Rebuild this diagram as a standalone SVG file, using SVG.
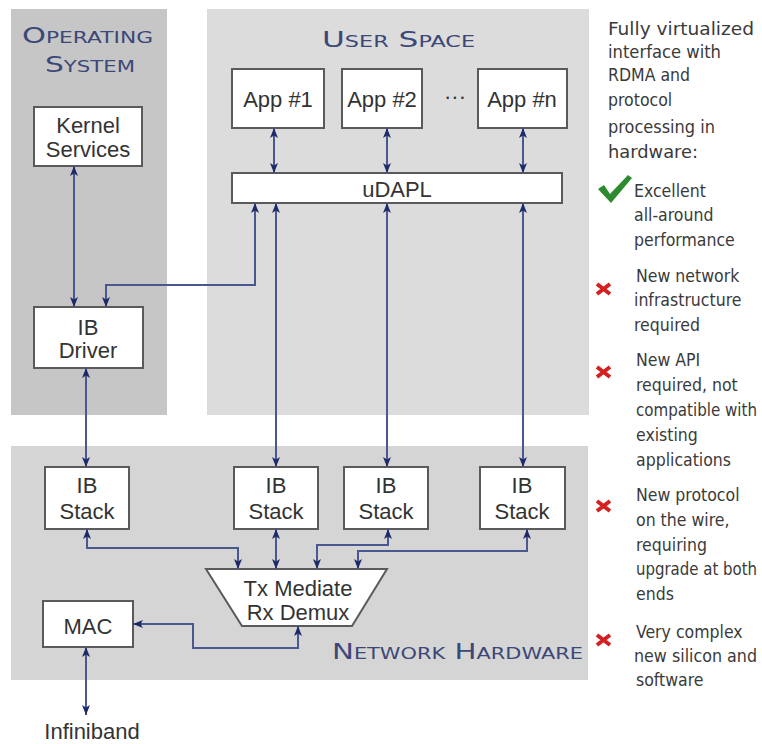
<svg xmlns="http://www.w3.org/2000/svg" width="762" height="744" viewBox="0 0 762 744">
<style>
.panel-os{fill:#c6c6c6}
.panel-us{fill:#dcdcdc}
.panel-hw{fill:#d5d5d5}
.title{font-family:"DejaVu Sans",sans-serif;font-variant:small-caps;font-size:21px;fill:#3c4878}
.box{fill:#fff;stroke:#5a5a5a;stroke-width:2}
.lbl{font-family:"Liberation Sans",Arial,sans-serif;font-size:22px;fill:#333;text-anchor:middle}
.conn{fill:none;stroke:#4a5890;stroke-width:2}
.side{font-family:"DejaVu Sans Condensed","DejaVu Sans",sans-serif;font-size:17.5px;fill:#3a3a3a}
.xm{stroke:#d42020;stroke-width:4;stroke-linecap:butt}
</style>
<defs>
<marker id="ah" viewBox="0 0 10 8" markerWidth="10" markerHeight="8" refX="10" refY="4" orient="auto-start-reverse" markerUnits="userSpaceOnUse">
<path d="M0,0 L10,4 L0,8 L2.5,4 Z" fill="#1e2a68"/>
</marker>
</defs>
<rect width="762" height="744" fill="#fff"/>

<g id="panels">
<rect class="panel-os" x="11" y="9" width="156" height="406"/>
<rect class="panel-us" x="207" y="9" width="382" height="406"/>
<rect class="panel-hw" x="11" y="446" width="577" height="234"/>
<text class="title" x="22" y="43" textLength="131" lengthAdjust="spacingAndGlyphs">Operating</text>
<text class="title" x="45" y="72" textLength="90" lengthAdjust="spacingAndGlyphs">System</text>
<text class="title" x="322" y="47" textLength="153" lengthAdjust="spacingAndGlyphs">User Space</text>
<text class="title" x="332" y="659" textLength="251" lengthAdjust="spacingAndGlyphs">Network Hardware</text>
</g>

<g id="kernel">
<rect class="box" x="34" y="107" width="108" height="59"/>
<text class="lbl" x="88" y="133">Kernel</text>
<text class="lbl" x="88" y="157">Services</text>
</g>
<g id="app1">
<rect class="box" x="232" y="69" width="92" height="59"/>
<text class="lbl" x="278" y="107">App #1</text>
</g>
<g id="app2">
<rect class="box" x="342" y="69" width="80" height="59"/>
<text class="lbl" x="382" y="107">App #2</text>
</g>
<text class="lbl" x="455" y="104">···</text>
<g id="appn">
<rect class="box" x="478" y="69" width="89" height="59"/>
<text class="lbl" x="522" y="107">App #n</text>
</g>
<g id="udapl">
<rect class="box" x="232" y="173" width="330" height="30"/>
<text class="lbl" x="397" y="197">uDAPL</text>
</g>
<g id="ibdriver">
<rect class="box" x="34" y="307" width="109" height="61"/>
<text class="lbl" x="88" y="335">IB</text>
<text class="lbl" x="88" y="358">Driver</text>
</g>
<g id="ibstack1">
<rect class="box" x="45" y="467" width="84" height="62"/>
<text class="lbl" x="87" y="493">IB</text>
<text class="lbl" x="87" y="519">Stack</text>
</g>
<g id="ibstack2">
<rect class="box" x="234" y="467" width="84" height="62"/>
<text class="lbl" x="276" y="493">IB</text>
<text class="lbl" x="276" y="519">Stack</text>
</g>
<g id="ibstack3">
<rect class="box" x="344" y="467" width="84" height="62"/>
<text class="lbl" x="386" y="493">IB</text>
<text class="lbl" x="386" y="519">Stack</text>
</g>
<g id="ibstack4">
<rect class="box" x="480" y="467" width="85" height="62"/>
<text class="lbl" x="522" y="493">IB</text>
<text class="lbl" x="522" y="519">Stack</text>
</g>
<g id="txmediate">
<path class="box" d="M206,569 L387,569 L352,626 L242,626 Z"/>
<text class="lbl" x="298" y="596">Tx Mediate</text>
<text class="lbl" x="298" y="620">Rx Demux</text>
</g>
<g id="mac">
<rect class="box" x="43" y="601" width="90" height="46"/>
<text class="lbl" x="88" y="634">MAC</text>
</g>
<g id="infiniband">
<text class="lbl" x="92" y="739">Infiniband</text>
</g>

<g id="connectors">
<path class="conn" d="M74,166 V307" marker-start="url(#ah)" marker-end="url(#ah)"/>
<path class="conn" d="M274,128 V173" marker-start="url(#ah)" marker-end="url(#ah)"/>
<path class="conn" d="M387,128 V173" marker-start="url(#ah)" marker-end="url(#ah)"/>
<path class="conn" d="M523,128 V173" marker-start="url(#ah)" marker-end="url(#ah)"/>
<path class="conn" d="M255,203 V285 H106 V307" marker-start="url(#ah)" marker-end="url(#ah)"/>
<path class="conn" d="M276,203 V467" marker-start="url(#ah)" marker-end="url(#ah)"/>
<path class="conn" d="M387,203 V467" marker-start="url(#ah)" marker-end="url(#ah)"/>
<path class="conn" d="M523,203 V467" marker-start="url(#ah)" marker-end="url(#ah)"/>
<path class="conn" d="M86,368 V467" marker-start="url(#ah)" marker-end="url(#ah)"/>
<path class="conn" d="M87,529 V548 H238 V569" marker-start="url(#ah)" marker-end="url(#ah)"/>
<path class="conn" d="M276,529 V569" marker-start="url(#ah)" marker-end="url(#ah)"/>
<path class="conn" d="M388,529 V545 H317 V569" marker-start="url(#ah)" marker-end="url(#ah)"/>
<path class="conn" d="M527,529 V551 H358 V569" marker-start="url(#ah)" marker-end="url(#ah)"/>
<path class="conn" d="M298,626 V648 H193 V624 H133" marker-start="url(#ah)" marker-end="url(#ah)"/>
<path class="conn" d="M86,647 V715" marker-start="url(#ah)" marker-end="url(#ah)"/>
</g>

<g id="notes">
<text class="side" x="608" y="35" textLength="146" lengthAdjust="spacingAndGlyphs">Fully virtualized</text>
<text class="side" x="608" y="58" textLength="113" lengthAdjust="spacingAndGlyphs">interface with</text>
<text class="side" x="608" y="81">RDMA and</text>
<text class="side" x="608" y="106">protocol</text>
<text class="side" x="608" y="133" textLength="107" lengthAdjust="spacingAndGlyphs">processing in</text>
<text class="side" x="608" y="158" textLength="90" lengthAdjust="spacingAndGlyphs">hardware:</text>
<path d="M598,189 L604,185 L610,194 L628,175 L632,178 L611,203 Z" fill="#2e8a2e"/>
<text class="side" x="634" y="197">Excellent</text>
<text class="side" x="634" y="221">all-around</text>
<text class="side" x="634" y="246">performance</text>
<path class="xm" d="M597,284 L610,294 M610,284 L597,294"/>
<text class="side" x="636" y="282">New network</text>
<text class="side" x="634" y="306">infrastructure</text>
<text class="side" x="634" y="331">required</text>
<path class="xm" d="M597,367 L610,377 M610,367 L597,377"/>
<text class="side" x="636" y="366">New API</text>
<text class="side" x="636" y="391">required, not</text>
<text class="side" x="636" y="416" textLength="121" lengthAdjust="spacingAndGlyphs">compatible with</text>
<text class="side" x="636" y="441">existing</text>
<text class="side" x="636" y="466">applications</text>
<path class="xm" d="M597,501 L610,511 M610,501 L597,511"/>
<text class="side" x="636" y="501">New protocol</text>
<text class="side" x="636" y="526">on the wire,</text>
<text class="side" x="636" y="551">requiring</text>
<text class="side" x="636" y="575" textLength="121" lengthAdjust="spacingAndGlyphs">upgrade at both</text>
<text class="side" x="636" y="600">ends</text>
<path class="xm" d="M597,635 L610,645 M610,635 L597,645"/>
<text class="side" x="636" y="638">Very complex</text>
<text class="side" x="634" y="662" textLength="123" lengthAdjust="spacingAndGlyphs">new silicon and</text>
<text class="side" x="636" y="686">software</text>
</g>
</svg>
